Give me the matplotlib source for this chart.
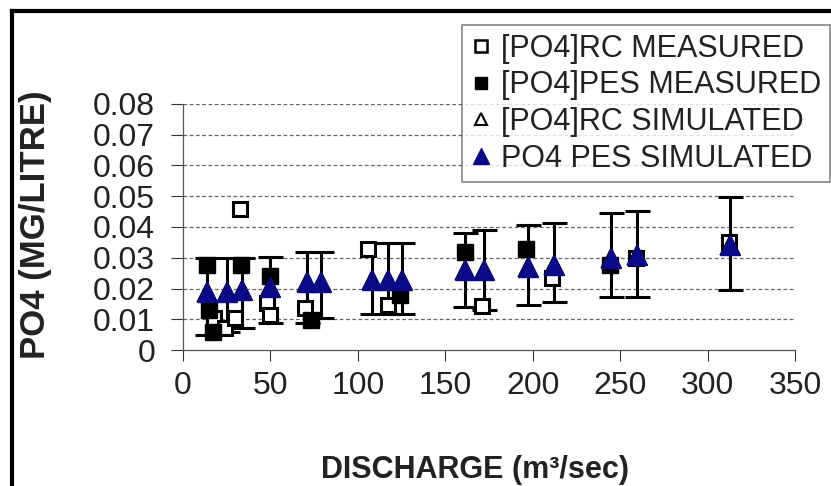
import matplotlib
matplotlib.use('Agg')
import matplotlib.pyplot as plt
from matplotlib.lines import Line2D

plt.rcParams['font.family'] = ['Liberation Sans', 'DejaVu Sans']

# measured concentrations
rc_meas_x = [18, 24, 30, 32.5, 48, 50, 70, 106, 117, 171, 211, 259, 312]
rc_meas_y = [0.0105, 0.007, 0.0105, 0.046, 0.0152, 0.0114, 0.0136, 0.033,
             0.0146, 0.0143, 0.0233, 0.030, 0.035]
pes_meas_x = [14, 15, 17, 33, 50, 73, 124, 161, 196, 244]
pes_meas_y = [0.0276, 0.013, 0.006, 0.0276, 0.024, 0.0098, 0.0179, 0.032,
              0.033, 0.0276]

# simulated concentrations with error bar limits
sim_x = [14, 25, 34, 50, 71, 79, 108, 117, 125, 161, 172, 197.5, 212, 245,
         259.5, 313]
rc_sim_y = [0.019, 0.019, 0.0195, 0.0206, 0.022, 0.022, 0.0228, 0.0228,
            0.0228, 0.026, 0.026, 0.0271, 0.0276, 0.0298, 0.0309, 0.0341]
pes_sim_y = [0.019, 0.019, 0.0195, 0.0206, 0.022, 0.022, 0.0228, 0.0228,
             0.0228, 0.026, 0.026, 0.0271, 0.0276, 0.0298, 0.0309, 0.0341]
sim_low = [0.005, 0.006, 0.007, 0.0087, 0.0088, 0.0105, 0.0117, 0.0117,
           0.0117, 0.0141, 0.013, 0.0146, 0.0157, 0.0173, 0.0173, 0.0195]
sim_high = [0.030, 0.030, 0.030, 0.0303, 0.032, 0.032, 0.0347, 0.0347,
            0.0347, 0.038, 0.039, 0.0407, 0.0414, 0.0444, 0.0453, 0.0499]

x_ticks = [0, 50, 100, 150, 200, 250, 300, 350]
y_ticks = [0, 0.01, 0.02, 0.03, 0.04, 0.05, 0.06, 0.07, 0.08]
y_tick_labels = ['0', '0.01', '0.02', '0.03', '0.04', '0.05', '0.06', '0.07', '0.08']

legend_labels = ['[PO4]RC MEASURED', '[PO4]PES MEASURED',
                 '[PO4]RC SIMULATED', 'PO4 PES SIMULATED']

blue = '#0a0a88'

fig = plt.figure(figsize=(8.31, 4.86), dpi=100)
ax = fig.add_axes([183 / 831, 1 - 350 / 486, 612 / 831, 246 / 486])

err_lo = [y - lo for y, lo in zip(pes_sim_y, sim_low)]
err_hi = [hi - y for y, hi in zip(pes_sim_y, sim_high)]
ax.errorbar(sim_x, pes_sim_y, yerr=[err_lo, err_hi], fmt='none',
            ecolor='black', elinewidth=2.2, capsize=9, capthick=2.2, zorder=3)

ax.plot(rc_meas_x, rc_meas_y, 's', ms=10, mfc='white', mec='black', mew=2.2,
        zorder=4)
ax.plot(pes_meas_x, pes_meas_y, 's', ms=11, mfc='black', mec='black', zorder=5)
ax.plot(sim_x, rc_sim_y, '^', ms=13, mfc='white', mec='black', mew=1.5,
        zorder=6)
ax.plot(sim_x, pes_sim_y, '^', ms=14, mfc=blue, mec=blue, zorder=7)

ax.set_xlim(0, 350)
ax.set_ylim(0, 0.08)
ax.set_xticks(x_ticks)
ax.set_xticklabels([str(v) for v in x_ticks])
ax.set_yticks(y_ticks)
ax.set_yticklabels(y_tick_labels)
ax.tick_params(axis='y', direction='out', length=9, width=0.8, pad=11,
               labelsize=23, colors='#333333', labelcolor='#222222')
ax.tick_params(axis='x', direction='out', length=8, width=0.8, pad=7,
               labelsize=23, colors='#333333', labelcolor='#222222')

for s in ['top', 'right']:
    ax.spines[s].set_visible(False)
for s in ['left', 'bottom']:
    ax.spines[s].set_color('#555555')
    ax.spines[s].set_linewidth(0.9)

for v in y_ticks[1:]:
    ax.axhline(v, color='#666666', lw=0.9, ls=(0, (3, 2)), zorder=1)

fig.text(36 / 831, 1 - 225 / 486, 'PO4 (MG/LITRE)', rotation=90,
         ha='center', va='center', fontsize=25, fontweight='bold',
         color='#222222')
fig.text(475 / 831, 1 - 470 / 486, 'DISCHARGE (m³/sec)', ha='center',
         va='center', fontsize=22, fontweight='bold', color='#222222')

handles = [
    Line2D([], [], ls='none', marker='s', ms=8, mfc='white', mec='black', mew=1.8),
    Line2D([], [], ls='none', marker='s', ms=9, mfc='black', mec='black'),
    Line2D([], [], ls='none', marker='^', ms=9, mfc='white', mec='black', mew=1.5),
    Line2D([], [], ls='none', marker='^', ms=11, mfc=blue, mec=blue),
]
leg = fig.legend(handles, legend_labels, loc='upper left',
                 bbox_to_anchor=(462 / 831, 1 - 25 / 486), fontsize=22,
                 frameon=True, fancybox=False, handlelength=0.7,
                 handletextpad=0.3, labelspacing=0.22, borderpad=0.28,
                 borderaxespad=0)
leg.get_frame().set_edgecolor('#666666')
leg.get_frame().set_linewidth(1.2)
for t in leg.get_texts():
    t.set_color('#222222')

# outer border of the picture (top and left edges only)
top = 1 - 11.5 / 486
left = 11.5 / 831
fig.add_artist(Line2D([left, 1.0], [top, top], transform=fig.transFigure,
                      color='black', lw=3, solid_capstyle='projecting'))
fig.add_artist(Line2D([left, left], [0.0, top], transform=fig.transFigure,
                      color='black', lw=3, solid_capstyle='projecting'))

fig.savefig('out.png', dpi=100)
